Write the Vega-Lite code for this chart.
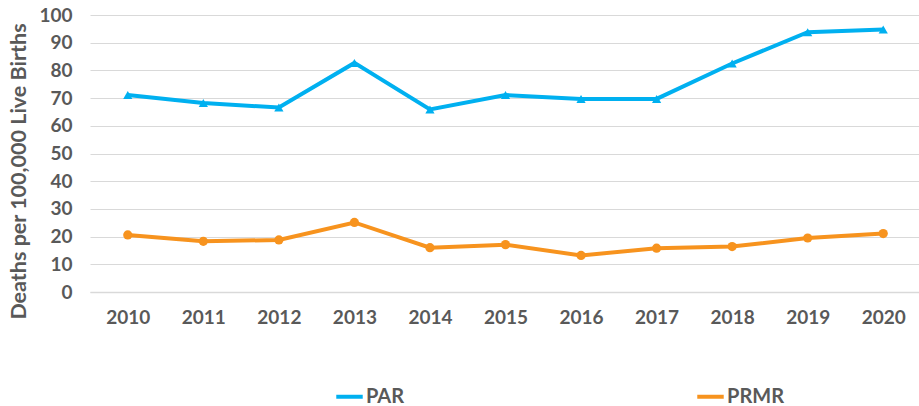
{
  "$schema": "https://vega.github.io/schema/vega-lite/v6.json",
  "width": 831,
  "height": 277,
  "padding": {"left": 8, "right": 0, "top": 6, "bottom": 0},
  "background": "white",
  "config": {
    "view": {"stroke": null},
    "font": "Lato",
    "axis": {"labelFont": "Lato", "titleFont": "Lato", "labelFontWeight": "bold", "titleFontWeight": "bold", "labelColor": "#595959", "titleColor": "#595959"},
    "legend": {"labelFont": "Lato", "labelFontWeight": "bold", "labelColor": "#595959"}
  },
  "data": {
    "values": [
      {"year": "2010", "series": "PAR", "value": 71.1},
      {"year": "2011", "series": "PAR", "value": 68.2},
      {"year": "2012", "series": "PAR", "value": 66.6},
      {"year": "2013", "series": "PAR", "value": 82.7},
      {"year": "2014", "series": "PAR", "value": 65.9},
      {"year": "2015", "series": "PAR", "value": 71.1},
      {"year": "2016", "series": "PAR", "value": 69.7},
      {"year": "2017", "series": "PAR", "value": 69.7},
      {"year": "2018", "series": "PAR", "value": 82.5},
      {"year": "2019", "series": "PAR", "value": 93.8},
      {"year": "2020", "series": "PAR", "value": 94.8},
      {"year": "2010", "series": "PRMR", "value": 20.6},
      {"year": "2011", "series": "PRMR", "value": 18.3},
      {"year": "2012", "series": "PRMR", "value": 18.8},
      {"year": "2013", "series": "PRMR", "value": 25.1},
      {"year": "2014", "series": "PRMR", "value": 16.0},
      {"year": "2015", "series": "PRMR", "value": 17.1},
      {"year": "2016", "series": "PRMR", "value": 13.2},
      {"year": "2017", "series": "PRMR", "value": 15.8},
      {"year": "2018", "series": "PRMR", "value": 16.4},
      {"year": "2019", "series": "PRMR", "value": 19.5},
      {"year": "2020", "series": "PRMR", "value": 21.1}
    ]
  },
  "encoding": {
    "x": {
      "field": "year", "type": "ordinal",
      "scale": {"type": "point", "padding": 0.5},
      "axis": {"title": null, "labelAngle": 0, "labelFontSize": 19, "labelPadding": 16, "ticks": false, "domainColor": "#d9d9d9", "domainWidth": 1.5, "grid": false}
    },
    "y": {
      "field": "value", "type": "quantitative",
      "scale": {"domain": [0, 100], "nice": false},
      "axis": {"title": "Deaths per  100,000 Live Births", "titleFontSize": 21.5, "titlePadding": 8, "titleY": 156, "labelFontSize": 19, "labelPadding": 18, "values": [0,10,20,30,40,50,60,70,80,90,100], "ticks": false, "domain": false, "gridColor": "#d9d9d9", "gridWidth": 1.2}
    }
  },
  "layer": [
    {
      "mark": {"type": "line", "strokeWidth": 4},
      "encoding": {
        "color": {
          "field": "series", "type": "nominal",
          "scale": {"domain": ["PAR", "PRMR"], "range": ["#00b0f0", "#f7931e"]},
          "legend": {"title": null, "orient": "none", "legendX": 244, "legendY": 366, "direction": "horizontal", "symbolType": "stroke", "symbolStrokeWidth": 4, "symbolSize": 700, "labelFontSize": 20, "columnPadding": 284, "labelOffset": 1}
        }
      }
    },
    {
      "mark": {"type": "point", "filled": true, "opacity": 1, "size": 85},
      "encoding": {
        "shape": {"field": "series", "type": "nominal", "scale": {"domain": ["PAR", "PRMR"], "range": ["triangle-up", "circle"]}, "legend": null},
        "color": {"field": "series", "type": "nominal", "scale": {"domain": ["PAR", "PRMR"], "range": ["#00b0f0", "#f7931e"]}, "legend": null}
      }
    }
  ],
  "resolve": {"scale": {"shape": "independent"}, "legend": {"color": "independent", "shape": "independent"}}
}
